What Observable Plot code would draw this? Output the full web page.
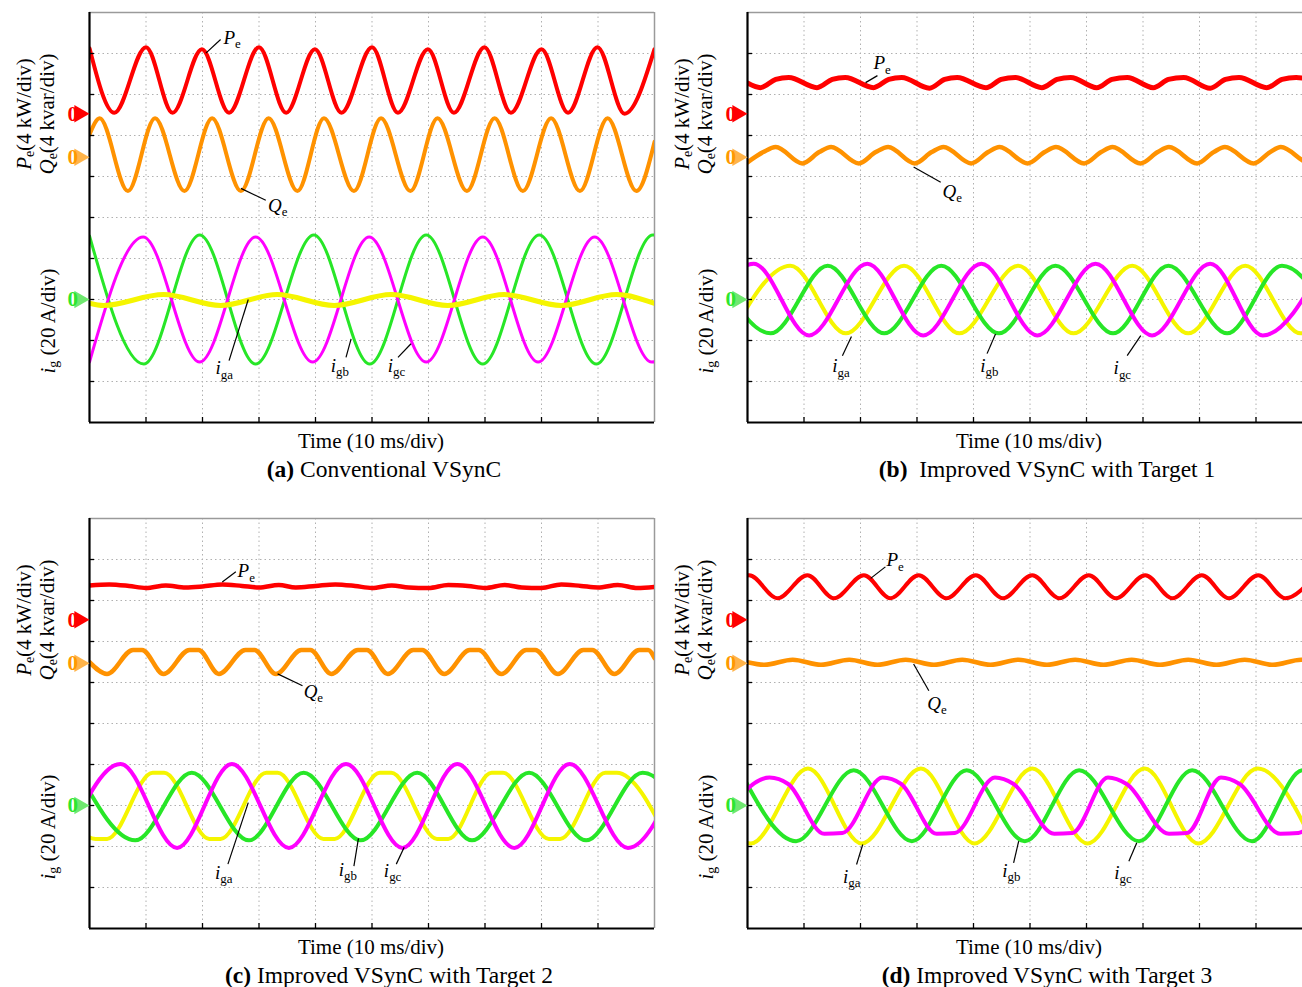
<!DOCTYPE html>
<html><head><meta charset="utf-8">
<script src="https://cdn.jsdelivr.net/npm/d3@7"></script>
<script src="https://cdn.jsdelivr.net/npm/@observablehq/plot@0.6"></script>
<style>
html,body{margin:0;padding:0;background:#fff;overflow:hidden;}
#fig{position:relative;width:1302px;height:987px;overflow:hidden;font-family:"Liberation Serif","Times New Roman",serif;color:#000;background:#fff;}
.panel{position:absolute;width:661px;height:506px;}
.panel svg{position:absolute;left:0;top:0;}
.lab{position:absolute;white-space:nowrap;line-height:1;}
.rot{transform:translate(-50%,-50%) rotate(-90deg);font-size:21px;}
.ctr{transform:translate(-50%,-50%);}
.lab sub{font-size:0.66em;vertical-align:-0.28em;line-height:0;}
</style></head><body><div id="fig"></div><script>
// ---------- channel settings (divisions) ----------
const CH = {P:{zero:7.53, per:4}, Q:{zero:6.47, per:4}, I:{zero:3.0, per:20}};
const DIV = [1,2,3,4,5,6,7,8,9];
const RED="#ff0000", ORANGE="#ff9200", GREEN="#27e627", MAGENTA="#ff00ff", YELLOW="#f5f500";
const FONT = "Liberation Serif, Times New Roman, serif";

// ---------- data: [time (div), value (kW / kvar / A)] ----------
// (a) Conventional VSynC
const aP = [[0,6.4],[0.44,0.1],[1.0,6.5],[1.47,0.1],[1.99,6.3],[2.47,0.1],[3.0,6.5],[3.48,0.1],[3.99,6.3],[4.46,0.1],[5.0,6.5],[5.46,0.1],[5.99,6.3],[6.45,0.1],[6.99,6.5],[7.46,0.1],[8.0,6.3],[8.47,0.1],[8.99,6.5],[9.47,0.0],[10.0,6.3]];
const aQ = [[0,2.2],[0.18,3.8],[0.68,-3.3],[1.16,3.8],[1.68,-3.3],[2.17,3.8],[2.68,-3.3],[3.17,3.8],[3.68,-3.3],[4.15,3.8],[4.68,-3.3],[5.16,3.8],[5.68,-3.3],[6.16,3.8],[6.68,-3.3],[7.17,3.8],[7.67,-3.3],[8.17,3.8],[8.68,-3.3],[9.17,3.8],[9.68,-3.3],[10,1.5]];
const aIa = [[0,-1.8],[0.25,-2.9],[1.31,2.4],[2.32,-2.9],[3.32,2.4],[4.33,-2.9],[5.34,2.4],[6.34,-2.9],[7.34,2.4],[8.35,-2.9],[9.33,2.4],[10,-1.9]];
const aIb = [[0,31],[0.96,-31.5],[1.95,31.5],[2.94,-31.5],[3.97,31.5],[4.96,-31.5],[5.96,31.5],[6.96,-31.5],[7.96,31.5],[8.97,-31.5],[9.97,31.5],[10,31.4]];
const aIc = [[0,-30.5],[0.95,30.5],[1.95,-30.5],[2.94,30.5],[3.95,-30.5],[4.95,30.5],[5.96,-30.5],[6.96,30.5],[7.94,-30.5],[8.94,30.5],[9.95,-30.5],[10,-30.4]];
// (b) Improved VSynC with Target 1
const bP = [[0,3.0],[0.23,2.55],[0.5,3.35],[0.73,3.55],[1.23,2.55],[1.5,3.35],[1.73,3.55],[2.23,2.55],[2.5,3.35],[2.73,3.55],[3.22,2.5],[3.49,3.35],[3.71,3.55],[4.22,2.55],[4.49,3.35],[4.74,3.55],[5.21,2.55],[5.48,3.35],[5.72,3.55],[6.18,2.55],[6.45,3.35],[6.72,3.55],[7.18,2.55],[7.45,3.35],[7.72,3.55],[8.19,2.5],[8.46,3.35],[8.7,3.55],[9.19,2.55],[9.46,3.35],[9.71,3.55],[10.2,2.55]];
const bQ = [[0,-0.5],[0.28,0.5],[0.5,1.0],[0.97,-0.6],[1.27,0.5],[1.48,1.0],[1.97,-0.6],[2.27,0.5],[2.49,1.0],[2.96,-0.6],[3.26,0.5],[3.47,1.0],[3.96,-0.6],[4.26,0.5],[4.46,1.0],[4.96,-0.6],[5.26,0.5],[5.46,1.0],[5.96,-0.6],[6.26,0.5],[6.46,1.0],[6.96,-0.6],[7.26,0.5],[7.46,1.0],[7.96,-0.6],[8.25,0.5],[8.45,1.0],[8.96,-0.6],[9.25,0.5],[9.44,1.0],[9.96,-0.6],[10.2,0.4]];
const bIa = [[-0.28,-16.5],[0.76,16.5],[1.74,-16.5],[2.77,16.5],[3.75,-16.5],[4.79,16.5],[5.77,-16.5],[6.81,16.5],[7.8,-16.5],[8.81,16.5],[9.79,-16.5],[10.8,16.5]];
const bIb = [[-0.6,16.5],[0.41,-16.5],[1.42,16.5],[2.42,-16.5],[3.43,16.5],[4.45,-16.5],[5.45,16.5],[6.47,-16.5],[7.45,16.5],[8.49,-16.5],[9.46,16.5],[10.47,-16.5]];
const bIc = [[-0.9,-17.5],[0.11,17.5],[1.09,-17.5],[2.12,17.5],[3.11,-17.5],[4.14,17.5],[5.13,-17.5],[6.16,17.5],[7.16,-17.5],[8.19,17.5],[9.12,-17.5],[10.2,17.5]];
// (c) Improved VSynC with Target 2
const cP = [[0,3.35],[0.35,3.45],[0.7,3.3],[1.0,3.1],[1.35,3.35],[1.7,3.15],[2.0,3.25],[2.35,3.45],[2.7,3.3],[3.0,3.15],[3.35,3.4],[3.65,3.15],[4.0,3.3],[4.35,3.45],[4.7,3.3],[5.0,3.1],[5.35,3.35],[5.65,3.15],[6.0,3.1],[6.35,3.4],[6.7,3.3],[7.0,3.1],[7.35,3.4],[7.65,3.15],[8.0,3.1],[8.35,3.45],[8.7,3.3],[9.0,3.15],[9.35,3.4],[9.7,3.1],[10,3.2]];
const cQ = [[0,0.1],[0.31,-1.05],[0.77,1.3],[0.93,1.3],[1.31,-1.05],[1.77,1.3],[1.93,1.3],[2.29,-1.05],[2.76,1.3],[2.92,1.3],[3.3,-1.05],[3.75,1.3],[3.91,1.3],[4.28,-1.05],[4.75,1.3],[4.91,1.3],[5.28,-1.05],[5.73,1.3],[5.89,1.3],[6.28,-1.05],[6.73,1.3],[6.89,1.3],[7.29,-1.05],[7.73,1.3],[7.89,1.3],[8.29,-1.05],[8.74,1.3],[8.9,1.3],[9.29,-1.05],[9.73,1.3],[9.89,1.3],[10,0.5]];
const cIa = [[-0.78,16],[0.11,-16.3],[0.31,-16.3],[1.12,16],[1.32,16],[2.12,-16.3],[2.32,-16.3],[3.13,16],[3.33,16],[4.14,-16.3],[4.34,-16.3],[5.14,16],[5.34,16],[6.15,-16.3],[6.35,-16.3],[7.12,16],[7.32,16],[8.13,-16.3],[8.33,-16.3],[9.13,16],[9.33,16],[10.23,-16.3]];
const cIb = [[-0.19,16],[0.81,-17],[1.81,16],[2.82,-17],[3.79,16],[4.8,-17],[5.8,16],[6.77,-17],[7.78,16],[8.79,-17],[9.79,16],[10.8,-17]];
const cIc = [[-0.45,-20.7],[0.55,20.3],[1.55,-20.7],[2.52,20.3],[3.53,-20.7],[4.54,20.3],[5.54,-20.7],[6.51,20.3],[7.52,-20.7],[8.5,20.3],[9.53,-20.7],[10.5,20.3]];
// (d) Improved VSynC with Target 3
const dP = [[-0.47,2.1],[0.03,4.35],[0.53,2.1],[1.06,4.35],[1.53,2.1],[2.06,4.35],[2.53,2.1],[3.03,4.35],[3.52,2.1],[4.04,4.35],[4.52,2.1],[5.04,4.35],[5.52,2.1],[6.04,4.35],[6.52,2.1],[7.04,4.35],[7.52,2.1],[8.04,4.35],[8.52,2.1],[9.04,4.35],[9.52,2.1],[10.04,4.35]];
const dQ = [[0,0.1],[0.3,-0.15],[0.8,0.35],[1.3,-0.15],[1.8,0.35],[2.3,-0.15],[2.8,0.35],[3.3,-0.15],[3.8,0.35],[4.3,-0.15],[4.8,0.35],[5.3,-0.15],[5.8,0.35],[6.3,-0.15],[6.8,0.35],[7.3,-0.15],[7.8,0.35],[8.3,-0.15],[8.8,0.35],[9.3,-0.15],[9.8,0.35],[10.3,-0.15]];
const dIa = [[-0.94,18],[0.06,-18.5],[1.07,18],[2.02,-18.5],[3.07,18],[4.02,-18.5],[5.04,18],[6.02,-18.5],[7.03,18],[7.98,-18.5],[9.03,18],[10.02,-18.5]];
const dIb = [[-0.14,17.2],[0.86,-17.4],[1.88,17.2],[2.91,-17.4],[3.88,17.2],[4.91,-17.4],[5.87,17.2],[6.93,-17.4],[7.87,17.2],[8.93,-17.4],[9.83,17.2],[10.85,-17.4]];
const dIc = [[-0.6,-13.8],[0.39,13.6],[0.72,10.5],[1.36,-13.8],[1.68,-13.4],[2.39,13.6],[2.72,10.5],[3.35,-13.8],[3.67,-13.4],[4.38,13.6],[4.71,10.5],[5.43,-13.8],[5.75,-13.4],[6.38,13.6],[6.71,10.5],[7.46,-13.8],[7.78,-13.4],[8.38,13.6],[8.71,10.5],[9.43,-13.8],[9.75,-13.4],[10.38,13.6]];

// ---------- annotations: leader [x1,y1,x2,y2] and label [text,x,y] (div) ----------
const aLinks = [[2.06,9.01,2.32,9.34],[2.68,5.71,3.12,5.42],[2.47,1.51,2.81,3.0],[4.54,1.59,4.63,2.04],[5.46,1.59,5.69,1.92]];
const aTexts = [["P|e",2.37,9.38],["Q|e",3.16,5.29],["i|ga",2.23,1.32],["i|gb",4.27,1.39],["i|gc",5.28,1.39]];
const bLinks = [[2.09,8.29,2.3,8.46],[2.94,6.23,3.42,5.86],[1.68,1.63,1.84,2.1],[4.24,1.68,4.39,2.16],[6.72,1.63,6.96,2.12]];
const bTexts = [["P|e",2.23,8.76],["Q|e",3.45,5.63],["i|ga",1.5,1.37],["i|gb",4.12,1.39],["i|gc",6.48,1.32]];
const cLinks = [[2.35,8.45,2.59,8.7],[3.33,6.21,3.77,5.92],[2.45,1.57,2.81,3.07],[4.68,1.52,4.76,2.2],[5.43,1.57,5.57,1.98]];
const cTexts = [["P|e",2.62,8.71],["Q|e",3.79,5.78],["i|ga",2.22,1.35],["i|gb",4.41,1.44],["i|gc",5.21,1.4]];
const dLinks = [[2.18,8.54,2.44,8.82],[2.94,6.45,3.21,5.8],[1.93,1.56,2.04,2.05],[4.71,1.6,4.8,2.13],[6.75,1.64,6.89,2.09]];
const dTexts = [["P|e",2.46,8.98],["Q|e",3.18,5.48],["i|ga",1.69,1.25],["i|gb",4.51,1.4],["i|gc",6.49,1.35]];

const captions = [
  ["(a)", " Conventional VSynC"],
  ["(b)", "\u00a0 Improved VSynC with Target 1"],
  ["(c)", " Improved VSynC with Target 2"],
  ["(d)", " Improved VSynC with Target 3"]
];
const zeroMarkers = [["P","#ff0000","#ff0000"],["Q","#ff9900","#ffb44a"],["I","#2ee62e","#6fe86f"]];

function trace(data, ch, color, w) {
  return Plot.line(data, {x: d => d[0], y: d => CH[ch].zero + d[1] / CH[ch].per,
    stroke: color, strokeWidth: w, curve: "monotone-x", clip: true,
    strokeLinejoin: "round", strokeLinecap: "round"});
}

function makePlot(p) {
  const tr = {
    P: trace(p.P, "P", RED, p.w[0]), Q: trace(p.Q, "Q", ORANGE, p.w[1]),
    Ia: trace(p.Ia, "I", YELLOW, p.w[2]), Ib: trace(p.Ib, "I", GREEN, p.w[3]), Ic: trace(p.Ic, "I", MAGENTA, p.w[4])
  };
  const marks = [
    Plot.gridX({ticks: DIV, stroke: "#b0b0b0", strokeOpacity: 1, strokeDasharray: "1.5,3"}),
    Plot.gridY({ticks: DIV, stroke: "#b0b0b0", strokeOpacity: 1, strokeDasharray: "1.5,3"}),
    Plot.ruleY([10], {stroke: "#9a9a9a", strokeWidth: 1.5}),
    Plot.ruleX([10], {stroke: "#9a9a9a", strokeWidth: 1.5}),
    tr.P, tr.Q, ...p.order.map(k => tr[k]),
    Plot.ruleX([0], {stroke: "#000", strokeWidth: 2.2}),
    Plot.ruleY([0], {stroke: "#000", strokeWidth: 2.2}),
    Plot.axisY({ticks: DIV, tickSize: 5, dx: 5, tickFormat: () => "", label: null, strokeWidth: 1.3}),
    Plot.axisX({ticks: DIV, tickSize: 5, dy: -5, tickFormat: () => "", label: null, strokeWidth: 1.3}),
    Plot.link(p.links, {x1: d => d[0], y1: d => d[1], x2: d => d[2], y2: d => d[3], stroke: "#000", strokeWidth: 1.2}),
    Plot.text(p.texts, {x: d => d[1], y: d => d[2], text: d => d[0], textAnchor: "start", fontSize: 19, fontFamily: FONT, fill: "#000"})
  ];
  for (const [ch, tc, fc] of zeroMarkers) {
    marks.push(Plot.dot([CH[ch].zero], {y: d => d, frameAnchor: "left", symbol: "triangle", r: 6.5, rotate: 90, fill: fc, dx: -10.1}));
    marks.push(Plot.text([CH[ch].zero], {y: d => d, frameAnchor: "left", text: () => "0", fill: tc, fontWeight: "bold", fontSize: 21, fontFamily: FONT, dx: -22}));
  }
  const svg = Plot.plot({
    width: 661, height: 428, marginLeft: 89, marginRight: 7, marginTop: 12, marginBottom: 6,
    x: {domain: [0, 10]}, y: {domain: [0, 10]},
    style: {background: "transparent", overflow: "visible", fontFamily: FONT},
    marks
  });
  d3.select(svg).selectAll("text").each(function () {
    const t = this.textContent;
    if (t.includes("|")) {
      const [main, sub] = t.split("|");
      const s = d3.select(this);
      s.text(null);
      s.append("tspan").attr("font-style", "italic").text(main);
      s.append("tspan").attr("font-size", "0.68em").attr("dy", "0.32em").text(sub);
    }
  });
  return svg;
}

const panels = [
  {left: 0, top: 0, P: aP, Q: aQ, Ia: aIa, Ib: aIb, Ic: aIc, links: aLinks, texts: aTexts, w: [4, 4, 5, 3, 3], order: ["Ib", "Ic", "Ia"], cap: 0, capX: 384},
  {left: 658, top: 0, P: bP, Q: bQ, Ia: bIa, Ib: bIb, Ic: bIc, links: bLinks, texts: bTexts, w: [5, 4.5, 4, 4, 4], order: ["Ia", "Ib", "Ic"], cap: 1, capX: 389},
  {left: 0, top: 506, P: cP, Q: cQ, Ia: cIa, Ib: cIb, Ic: cIc, links: cLinks, texts: cTexts, w: [4.5, 4.5, 4, 4, 4], order: ["Ia", "Ib", "Ic"], cap: 2, capX: 389},
  {left: 658, top: 506, P: dP, Q: dQ, Ia: dIa, Ib: dIb, Ic: dIc, links: dLinks, texts: dTexts, w: [4, 4.5, 4, 4, 4], order: ["Ia", "Ib", "Ic"], cap: 3, capX: 389}
];

const fig = document.getElementById("fig");
for (const p of panels) {
  const div = document.createElement("div");
  div.className = "panel";
  div.style.left = p.left + "px";
  div.style.top = p.top + "px";
  div.appendChild(makePlot(p));
  const add = (html, cls, x, y, fs) => {
    const e = document.createElement("div");
    e.className = "lab " + cls;
    e.style.left = x + "px"; e.style.top = y + "px";
    if (fs) e.style.fontSize = fs + "px";
    e.innerHTML = html;
    div.appendChild(e);
  };
  add("<i>P</i><sub>e</sub>(4 kW/div)", "rot", 24, 114);
  add("<i>Q</i><sub>e</sub>(4 kvar/div)", "rot", 47, 114);
  add("<i>i</i><sub>g</sub> (20 A/div)", "rot", 48, 321);
  add("Time (10 ms/div)", "ctr", 371, 441, 21);
  const [c1, c2] = captions[p.cap];
  add("<b>" + c1 + "</b>" + c2, "ctr", p.capX, 470, 23.5);
  fig.appendChild(div);
}
</script></body></html>
